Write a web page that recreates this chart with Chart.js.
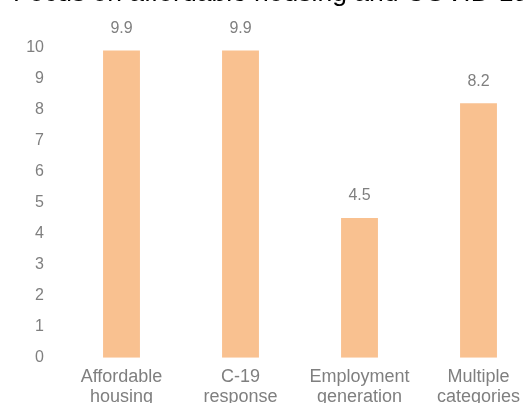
<!DOCTYPE html>
<html>
<head>
<meta charset="utf-8">
<script src="https://cdn.jsdelivr.net/npm/chart.js@4.4.0/dist/chart.umd.min.js"></script>
<style>
  html, body { margin: 0; padding: 0; background: #fff; overflow: hidden; width: 523px; height: 403px; }
  #wrap { position: absolute; left: 0; top: -22px; width: 538px; height: 430px; }
</style>
</head>
<body>
<div id="wrap"><canvas id="chart"></canvas></div>
<script>
// Chart data
const titleText = 'Focus on affordable housing and COVID-19';
const categories = [['Affordable', 'housing'], ['C-19', 'response'], ['Employment', 'generation'], ['Multiple', 'categories']];
const values = [9.9, 9.9, 4.5, 8.2];
const yTicks = [0, 1, 2, 3, 4, 5, 6, 7, 8, 9, 10];

const fontFamily = "'Liberation Sans', Arial, sans-serif";
const textGray = '#7f7f7f';
const barColor = '#f9c190';

// Small plugin: value labels above each bar
const valueLabels = {
    id: 'valueLabels',
    afterDatasetsDraw(chart) {
        const ctx = chart.ctx;
        const meta = chart.getDatasetMeta(0);
        ctx.save();
        ctx.font = '16px ' + fontFamily;
        ctx.fillStyle = textGray;
        ctx.textAlign = 'center';
        ctx.textBaseline = 'middle';
        meta.data.forEach((bar, i) => {
            ctx.fillText(values[i].toFixed(1), bar.x, bar.y - 22);
        });
        ctx.restore();
    }
};

new Chart(document.getElementById('chart'), {
    type: 'bar',
    data: {
        labels: categories,
        datasets: [{
            data: values,
            backgroundColor: barColor,
            borderWidth: 0,
            categoryPercentage: 1,
            barPercentage: 0.31
        }]
    },
    options: {
        responsive: true,
        maintainAspectRatio: false,
        animation: false,
        layout: { padding: { left: 13, right: 0, top: 0, bottom: 0 } },
        plugins: {
            legend: { display: false },
            tooltip: { enabled: false },
            title: {
                display: true,
                text: titleText,
                align: 'start',
                color: '#000',
                font: { family: fontFamily, size: 26.5, weight: 'normal' },
                padding: { top: 0, bottom: 37.5 }
            }
        },
        scales: {
            x: {
                grid: { display: false },
                border: { display: false },
                ticks: {
                    color: textGray,
                    font: { family: fontFamily, size: 18, lineHeight: 1.1 },
                    padding: 1.3,
                    maxRotation: 0,
                    autoSkip: false
                }
            },
            y: {
                min: 0,
                max: 10,
                grid: { display: false },
                border: { display: false },
                afterBuildTicks: axis => { axis.ticks = yTicks.map(v => ({ value: v })); },
                afterFit: axis => { axis.width = 49; },
                ticks: {
                    color: textGray,
                    font: { family: fontFamily, size: 16 },
                    padding: 10
                }
            }
        }
    },
    plugins: [valueLabels]
});
</script>
</body>
</html>
